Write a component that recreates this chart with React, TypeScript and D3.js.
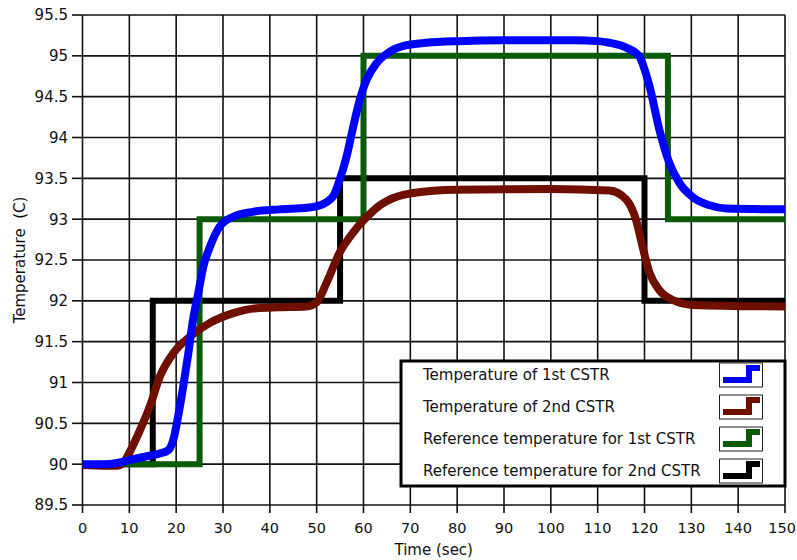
import React from "react";
import * as d3 from "d3";

// time axis (sec) and temperature readings taken off the chart
const xTicks = [0, 10, 20, 30, 40, 50, 60, 70, 80, 90, 100, 110, 120, 130, 140, 150];
const yTicks = [89.5, 90, 90.5, 91, 91.5, 92, 92.5, 93, 93.5, 94, 94.5, 95, 95.5];

const t1 = [0, 5, 8, 10, 14, 16.5, 18.3, 19.4, 20.4, 21.5, 22.6, 23.6, 24.7, 25.8, 27.2, 29.3, 32.2, 36.4, 42, 48, 50.7, 53.5, 54.9, 56.4, 57.8, 59.2, 60.6, 62.8, 65.6, 69.2, 73.4, 80, 90, 105, 110, 112.5, 116.1, 118.9, 121.1, 123.2, 125.3, 127.5, 130.3, 133.9, 137.5, 150];
const temp1 = [90, 90, 90.02, 90.05, 90.1, 90.13, 90.17, 90.3, 90.58, 90.95, 91.36, 91.77, 92.09, 92.42, 92.66, 92.91, 93.03, 93.09, 93.12, 93.14, 93.17, 93.28, 93.48, 93.77, 94.13, 94.46, 94.7, 94.91, 95.05, 95.13, 95.16, 95.18, 95.19, 95.19, 95.18, 95.16, 95.1, 94.99, 94.62, 94.09, 93.69, 93.44, 93.27, 93.17, 93.13, 93.12];

const t2 = [0, 5, 7.5, 9, 10, 12.3, 14.4, 16.5, 19.4, 22.9, 27.2, 32.2, 37.2, 42, 47.8, 50, 52.1, 54.9, 57.7, 59.9, 61.3, 63.5, 64.9, 70.6, 79.9, 100, 112.5, 116.1, 118.2, 119.6, 121.1, 123.2, 126, 130.3, 150];
const temp2 = [89.99, 89.98, 89.98, 90.04, 90.14, 90.42, 90.71, 91.07, 91.36, 91.56, 91.73, 91.85, 91.91, 91.92, 91.93, 91.98, 92.22, 92.59, 92.83, 92.98, 93.06, 93.17, 93.22, 93.32, 93.36, 93.37, 93.35, 93.24, 92.99, 92.66, 92.34, 92.13, 92.01, 91.95, 91.93];

const refT1 = [0, 25, 60, 125, 150];
const ref1 = [90, 93, 95, 93, 93];
const refT2 = [0, 15, 55, 120, 150];
const ref2 = [90, 92, 93.5, 92, 92];

const legendNames = [
  "Temperature of 1st CSTR",
  "Temperature of 2nd CSTR",
  "Reference temperature for 1st CSTR",
  "Reference temperature for 2nd CSTR",
];
const colors = ["#0000ff", "#6e0f00", "#0a5a0a", "#000000"];

const W = 797;
const H = 560;
const m = { left: 82.5, right: 785, top: 15, bottom: 505 };
const font = "'DejaVu Sans', sans-serif";
const fs = 15;

type Pt = [number, number];
const zip = (a: number[], b: number[]): Pt[] => a.map((d, i) => [d, b[i]]);

export default function App() {
  const x = d3.scaleLinear().domain([0, 150]).range([m.left, m.right]);
  const y = d3.scaleLinear().domain([89.5, 95.5]).range([m.bottom, m.top]);

  const smooth = d3
    .line<Pt>()
    .x((d) => x(d[0]))
    .y((d) => y(d[1]))
    .curve(d3.curveMonotoneX);
  const step = d3
    .line<Pt>()
    .x((d) => x(d[0]))
    .y((d) => y(d[1]))
    .curve(d3.curveStepAfter);

  // drawn back to front: black, green, brown, blue
  const series = [
    { d: step(zip(refT2, ref2)), c: colors[3], w: 6 },
    { d: step(zip(refT1, ref1)), c: colors[2], w: 6 },
    { d: smooth(zip(t2, temp2)), c: colors[1], w: 8 },
    { d: smooth(zip(t1, temp1)), c: colors[0], w: 8 },
  ];

  const lg = { x0: 401, y0: 361, x1: 785, y1: 486 };
  const rowY = (i: number) => 375 + i * 32;
  const lastX = xTicks[xTicks.length - 1];

  return (
    <svg
      width={W}
      height={H}
      style={{ position: "absolute", left: 0, top: 0, background: "#fff" }}
      fontFamily={font}
    >
      <rect x={0} y={0} width={W} height={H} fill="#fff" />
      {/* grid */}
      {xTicks.map((v) => (
        <line key={"gx" + v} x1={x(v)} x2={x(v)} y1={m.top} y2={m.bottom} stroke="#111" strokeWidth={1.6} />
      ))}
      {yTicks.map((v) => (
        <line key={"gy" + v} x1={m.left} x2={m.right} y1={y(v)} y2={y(v)} stroke="#111" strokeWidth={1.6} />
      ))}
      {/* y ticks */}
      {yTicks.map((v) => (
        <g key={"ty" + v} transform={`translate(0,${y(v)})`}>
          <line x1={72} x2={m.left} stroke="#111" strokeWidth={1.6} />
          <text x={68} dy="0.36em" textAnchor="end" fontSize={fs} fill="#111">
            {String(v)}
          </text>
        </g>
      ))}
      {/* x ticks; the last label is kept inside the page edge */}
      {xTicks.map((v) => (
        <g key={"tx" + v} transform={`translate(${x(v)},0)`}>
          <line y1={m.bottom} y2={513} stroke="#111" strokeWidth={1.6} />
          <text
            x={v === lastX ? W - 1 - x(v) : 0}
            y={533}
            textAnchor={v === lastX ? "end" : "middle"}
            fontSize={14.5}
            fill="#111"
          >
            {v}
          </text>
        </g>
      ))}
      <text x={(m.left + m.right) / 2} y={555} textAnchor="middle" fontSize={fs} fill="#111">
        Time (sec)
      </text>
      <text
        transform={`translate(25,${(m.top + m.bottom) / 2}) rotate(-90)`}
        textAnchor="middle"
        fontSize={fs}
        fill="#111"
        style={{ whiteSpace: "pre" }}
      >
        Temperature  (C)
      </text>
      {/* plots */}
      {series.map((s, i) => (
        <path key={"s" + i} d={s.d || ""} fill="none" stroke={s.c} strokeWidth={s.w} strokeLinejoin="miter" />
      ))}
      {/* legend */}
      <rect
        x={lg.x0}
        y={lg.y0}
        width={lg.x1 - lg.x0}
        height={lg.y1 - lg.y0}
        fill="#fff"
        stroke="#000"
        strokeWidth={3}
      />
      {legendNames.map((name, i) => (
        <g key={"lg" + i}>
          <text x={423} y={rowY(i)} dy="0.36em" fontSize={fs} fill="#111">
            {name}
          </text>
          <rect x={719.5} y={rowY(i) - 12} width={43} height={24} fill="#fff" stroke="#222" strokeWidth={1} />
          <path
            d={`M723,${rowY(i) + 5}H749V${rowY(i) - 7}H760`}
            fill="none"
            stroke={colors[i]}
            strokeWidth={6}
          />
        </g>
      ))}
    </svg>
  );
}
